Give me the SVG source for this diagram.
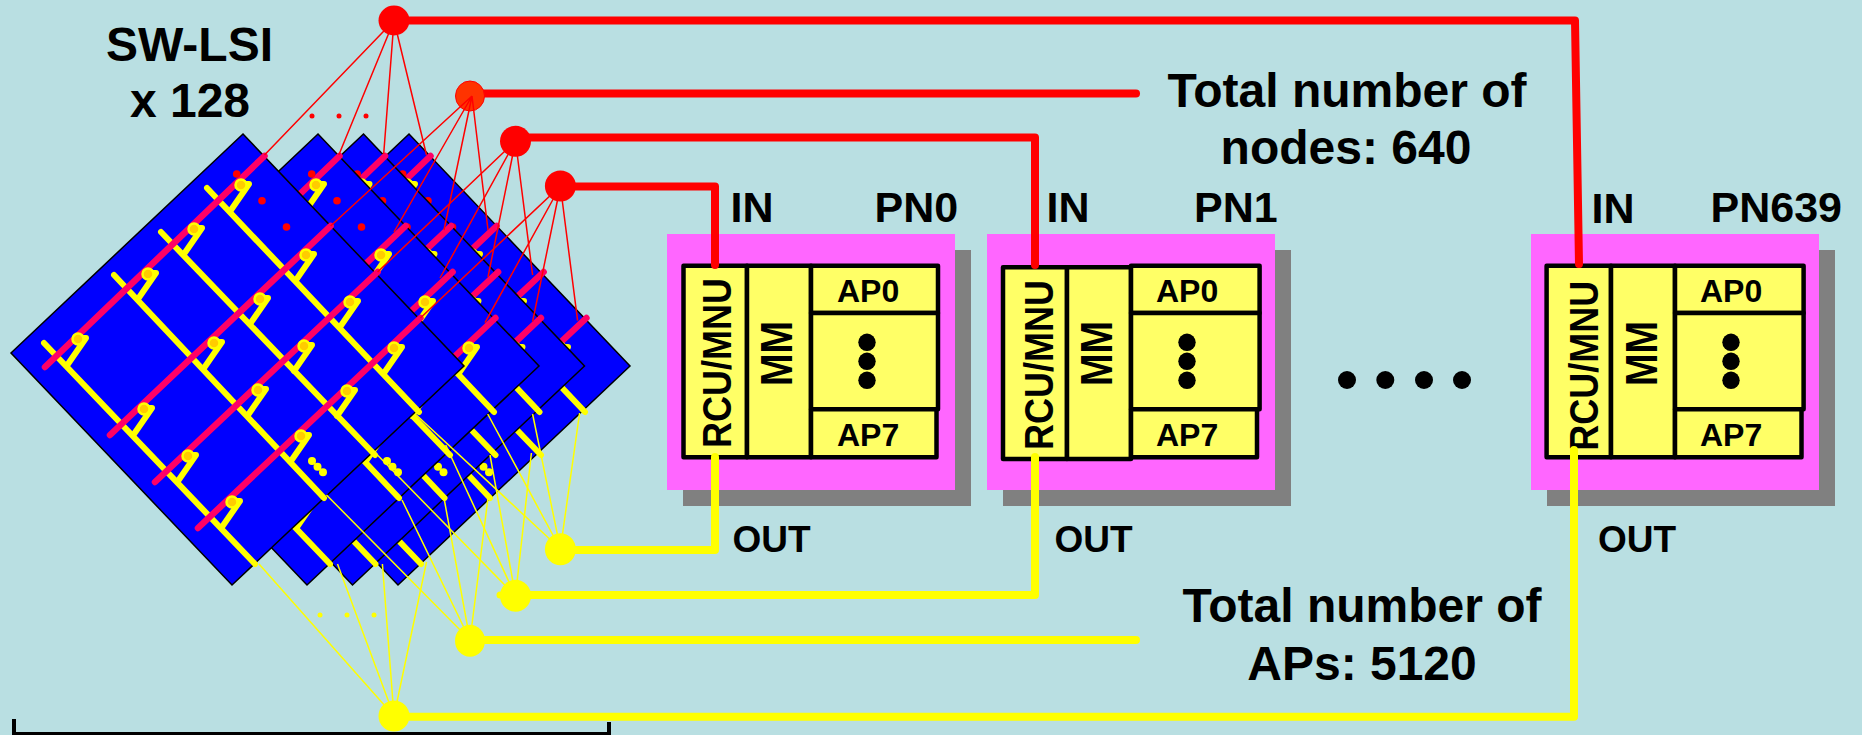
<svg xmlns="http://www.w3.org/2000/svg" xmlns:xlink="http://www.w3.org/1999/xlink" width="1862" height="735" viewBox="0 0 1862 735">
<style>
text{font-family:"Liberation Sans",Arial,sans-serif;font-weight:bold;fill:#000}
.big{font-size:48px}.pn{font-size:43px}.out{font-size:37px}.ap{font-size:32px}
.dia{fill:#00f;stroke:#000;stroke-width:1.5;stroke-linejoin:miter}
.yl{stroke:#ff0;stroke-width:6;stroke-linecap:round;stroke-linejoin:round;fill:none}
.pk{stroke:#f06;stroke-width:6.5;stroke-linecap:round;fill:none}
.gd{fill:#fc0;stroke:#ff0;stroke-width:2.5}
.rd{fill:#f00}.yd{fill:#ff0}
.tr{stroke:#f00;stroke-width:1.5;fill:none}
.ty{stroke:#ff0;stroke-width:1.5;fill:none}
.wr{stroke:#f00;stroke-width:8;fill:none;stroke-linecap:round;stroke-linejoin:round}
.wy{stroke:#ff0;stroke-width:8;fill:none;stroke-linecap:round;stroke-linejoin:round}
.shadow{fill:#808080}.board{fill:#f6f}
.cell{fill:#ff6;stroke:#000;stroke-width:4.5;stroke-linejoin:round}
</style>
<defs>
<g id="stub"><path class="yl" d="M0,-1 L8,-1 L-10,25"/><ellipse class="gd" cx="0" cy="0" rx="5.5" ry="5.5"/></g>
<g id="lsi">
<polygon class="dia" points="243,134 464,366 232,585 11,353"/>
<path class="yl" d="M207,188L419,412M161,232L375,455M114,275L324,498M44,343L255,564"/>
<path class="pk" d="M264.5,156L45,367M330.6,226L110,435M377.6,272L155,482M420.4,318L198,528"/>
<use href="#stub" x="241" y="185"/><use href="#stub" x="194" y="229"/><use href="#stub" x="148" y="274"/><use href="#stub" x="78" y="339"/>
<use href="#stub" x="306" y="255"/><use href="#stub" x="260" y="299"/><use href="#stub" x="214" y="343"/><use href="#stub" x="144" y="409"/>
<use href="#stub" x="350" y="302"/><use href="#stub" x="304" y="346"/><use href="#stub" x="258" y="390"/><use href="#stub" x="188" y="456"/>
<use href="#stub" x="394" y="348"/><use href="#stub" x="347" y="391"/><use href="#stub" x="301" y="436"/><use href="#stub" x="232" y="502"/>
<ellipse class="rd" cx="236.7" cy="174" rx="3.8" ry="3.8"/><ellipse class="rd" cx="262" cy="200.7" rx="3.8" ry="3.8"/><ellipse class="rd" cx="286.5" cy="227" rx="3.8" ry="3.8"/>
<ellipse class="yd" cx="312" cy="461" rx="4" ry="4"/><ellipse class="yd" cx="317.5" cy="466.7" rx="4" ry="4"/><ellipse class="yd" cx="323" cy="472.3" rx="4" ry="4"/>
</g>
</defs>
<rect width="1862" height="735" fill="#b9dfe2"/>
<g id="lsi-stack">
<use href="#lsi" x="166"/><use href="#lsi" x="120.5"/><use href="#lsi" x="75"/><use href="#lsi"/>
</g>
<g id="pn0">
<rect class="shadow" x="683" y="250" width="288" height="256"/><rect class="board" x="667" y="234" width="288" height="256"/>
<rect class="cell" x="683.5" y="265.7" width="63.5" height="191.6"/><rect class="cell" x="747" y="265.7" width="64" height="191.6"/>
<rect class="cell" x="811" y="265.7" width="127" height="47.3"/><rect class="cell" x="811" y="313" width="127" height="96.3"/><rect class="cell" x="811" y="409.3" width="125.5" height="48"/>
<text transform="translate(730.6,448) rotate(-90)" textLength="170" lengthAdjust="spacingAndGlyphs" style="font-size:41px">RCU/MNU</text>
<text transform="translate(791.8,386) rotate(-90)" textLength="65" lengthAdjust="spacingAndGlyphs" style="font-size:45px">MM</text>
<text class="ap" x="837" y="301.7">AP0</text><text class="ap" x="837" y="445.7">AP7</text>
<circle cx="867" cy="342.3" r="8.7"/><circle cx="867" cy="361.3" r="8.7"/><circle cx="867" cy="380.3" r="8.7"/>
<text class="pn" x="730.5" y="221.7">IN</text><text class="pn" x="874.5" y="221.7">PN0</text><text class="out" x="732.5" y="551.7">OUT</text>
</g>
<g id="pn1">
<rect class="shadow" x="1003" y="250" width="288" height="256"/><rect class="board" x="987" y="234" width="288" height="256"/>
<rect class="cell" x="1003" y="267.3" width="64" height="191.7"/><rect class="cell" x="1067" y="267.3" width="64" height="191.7"/>
<rect class="cell" x="1131" y="265.7" width="128.6" height="47.3"/><rect class="cell" x="1131" y="313" width="128.6" height="96.3"/><rect class="cell" x="1131" y="409.3" width="126" height="48"/>
<text transform="translate(1053,450) rotate(-90)" textLength="170" lengthAdjust="spacingAndGlyphs" style="font-size:41px">RCU/MNU</text>
<text transform="translate(1112,386) rotate(-90)" textLength="65" lengthAdjust="spacingAndGlyphs" style="font-size:45px">MM</text>
<text class="ap" x="1156" y="301.7">AP0</text><text class="ap" x="1156" y="445.7">AP7</text>
<circle cx="1187" cy="342.3" r="8.7"/><circle cx="1187" cy="361.3" r="8.7"/><circle cx="1187" cy="380.3" r="8.7"/>
<text class="pn" x="1046.5" y="221.7">IN</text><text class="pn" x="1194" y="221.7">PN1</text><text class="out" x="1054.5" y="551.7">OUT</text>
</g>
<g id="dots"><circle cx="1347" cy="380" r="9"/><circle cx="1385.3" cy="380" r="9"/><circle cx="1424" cy="380" r="9"/><circle cx="1462" cy="380" r="9"/></g>
<g id="pn639">
<rect class="shadow" x="1547" y="250" width="288" height="256"/><rect class="board" x="1531" y="234" width="288" height="256"/>
<rect class="cell" x="1546.6" y="265.7" width="64.4" height="191.6"/><rect class="cell" x="1611" y="265.7" width="64" height="191.6"/>
<rect class="cell" x="1675" y="265.7" width="128.6" height="47.3"/><rect class="cell" x="1675" y="313" width="128.6" height="96.3"/><rect class="cell" x="1675" y="409.3" width="126.5" height="48"/>
<text transform="translate(1597.5,450.7) rotate(-90)" textLength="170" lengthAdjust="spacingAndGlyphs" style="font-size:41px">RCU/MNU</text>
<text transform="translate(1656.6,386) rotate(-90)" textLength="65" lengthAdjust="spacingAndGlyphs" style="font-size:45px">MM</text>
<text class="ap" x="1700" y="301.7">AP0</text><text class="ap" x="1700" y="445.7">AP7</text>
<circle cx="1731" cy="342.3" r="8.7"/><circle cx="1731" cy="361.3" r="8.7"/><circle cx="1731" cy="380.3" r="8.7"/>
<text class="pn" x="1591.5" y="223">IN</text><text class="pn" x="1710.5" y="221.7">PN639</text><text class="out" x="1598" y="551.7">OUT</text>
</g>
<g id="connectors">
<path class="wr" d="M394,20.5H1575L1579,264"/>
<path class="wr" d="M470,93.5H1136"/>
<path class="wr" d="M515,137.5H1035V265"/>
<path class="wr" d="M560,186.5H715V265"/>
<path class="wy" d="M560,550H715V457"/>
<path class="wy" d="M515,595H1035V457"/>
<path class="wy" d="M470,640H1136"/>
<path class="wy" d="M394,716.7H1574V450"/>
<ellipse cx="394" cy="20.5" rx="15.5" ry="15" class="rd"/>
<ellipse cx="470" cy="96" rx="14.5" ry="15" fill="#f30" stroke="#f00" stroke-width="1"/>
<ellipse cx="515.5" cy="141.3" rx="15.5" ry="15.5" class="rd"/>
<ellipse cx="560.4" cy="186" rx="15.5" ry="15.5" class="rd"/>
<path class="tr" d="M394,20.5L264.5,155M394,20.5L338.8,155M394,20.5L383.7,154M394,20.5L426.5,155"/>
<path class="tr" d="M472,96L330.6,226M472,96L394,232M472,96L444,230M472,96L488,230"/>
<path class="tr" d="M515.5,141L377.6,272M515.5,141L440,278M515.5,141L488,277M515.5,141L532.6,275"/>
<path class="tr" d="M560.4,186L420.4,318M560.4,186L485,322.7M560.4,186L532.6,321.7M560.4,186L577.6,320.7"/>
<path class="ty" d="M394,716L259,564M394,716L337.5,564M394,716L382.4,564M394,716L426.5,562"/>
<path class="ty" d="M470,640L326.5,495M470,640L402,500M470,640L444,498M470,640L488,498"/>
<path class="ty" d="M515.5,596L375.5,453M515.5,596L445.7,445M515.5,596L490,455M515.5,596L531.4,453"/>
<path class="ty" d="M560.4,549L416.3,415M560.4,549L487.7,414M560.4,549L532.6,414M560.4,549L579.6,413"/>
<ellipse cx="394" cy="716" rx="15.5" ry="15.5" class="yd"/>
<ellipse cx="470" cy="640.7" rx="15" ry="16" class="yd"/>
<ellipse cx="515.5" cy="595.7" rx="15.5" ry="16" class="yd"/><circle cx="500" cy="595" r="3.5" class="yd"/>
<ellipse cx="560.4" cy="549.3" rx="15.5" ry="16" class="yd"/>
<circle cx="312" cy="116" r="2.5" class="rd"/><circle cx="339" cy="116" r="2.5" class="rd"/><circle cx="366" cy="116" r="2.5" class="rd"/>
<circle cx="320" cy="615" r="2.5" class="yd"/><circle cx="347" cy="615" r="2.5" class="yd"/><circle cx="374" cy="615" r="2.5" class="yd"/>
</g>
<g id="bracket"><path d="M14,719V734H609V722" fill="none" stroke="#000" stroke-width="4"/></g>
<g id="labels">
<text class="big" x="189.5" y="61" text-anchor="middle">SW-LSI</text>
<text class="big" x="190" y="117" text-anchor="middle">x 128</text>
<text class="big" x="1347" y="107" text-anchor="middle">Total number of</text>
<text class="big" x="1346" y="164.3" text-anchor="middle">nodes: 640</text>
<text class="big" x="1362" y="621.7" text-anchor="middle">Total number of</text>
<text class="big" x="1362" y="680" text-anchor="middle">APs: 5120</text>
</g>
</svg>
